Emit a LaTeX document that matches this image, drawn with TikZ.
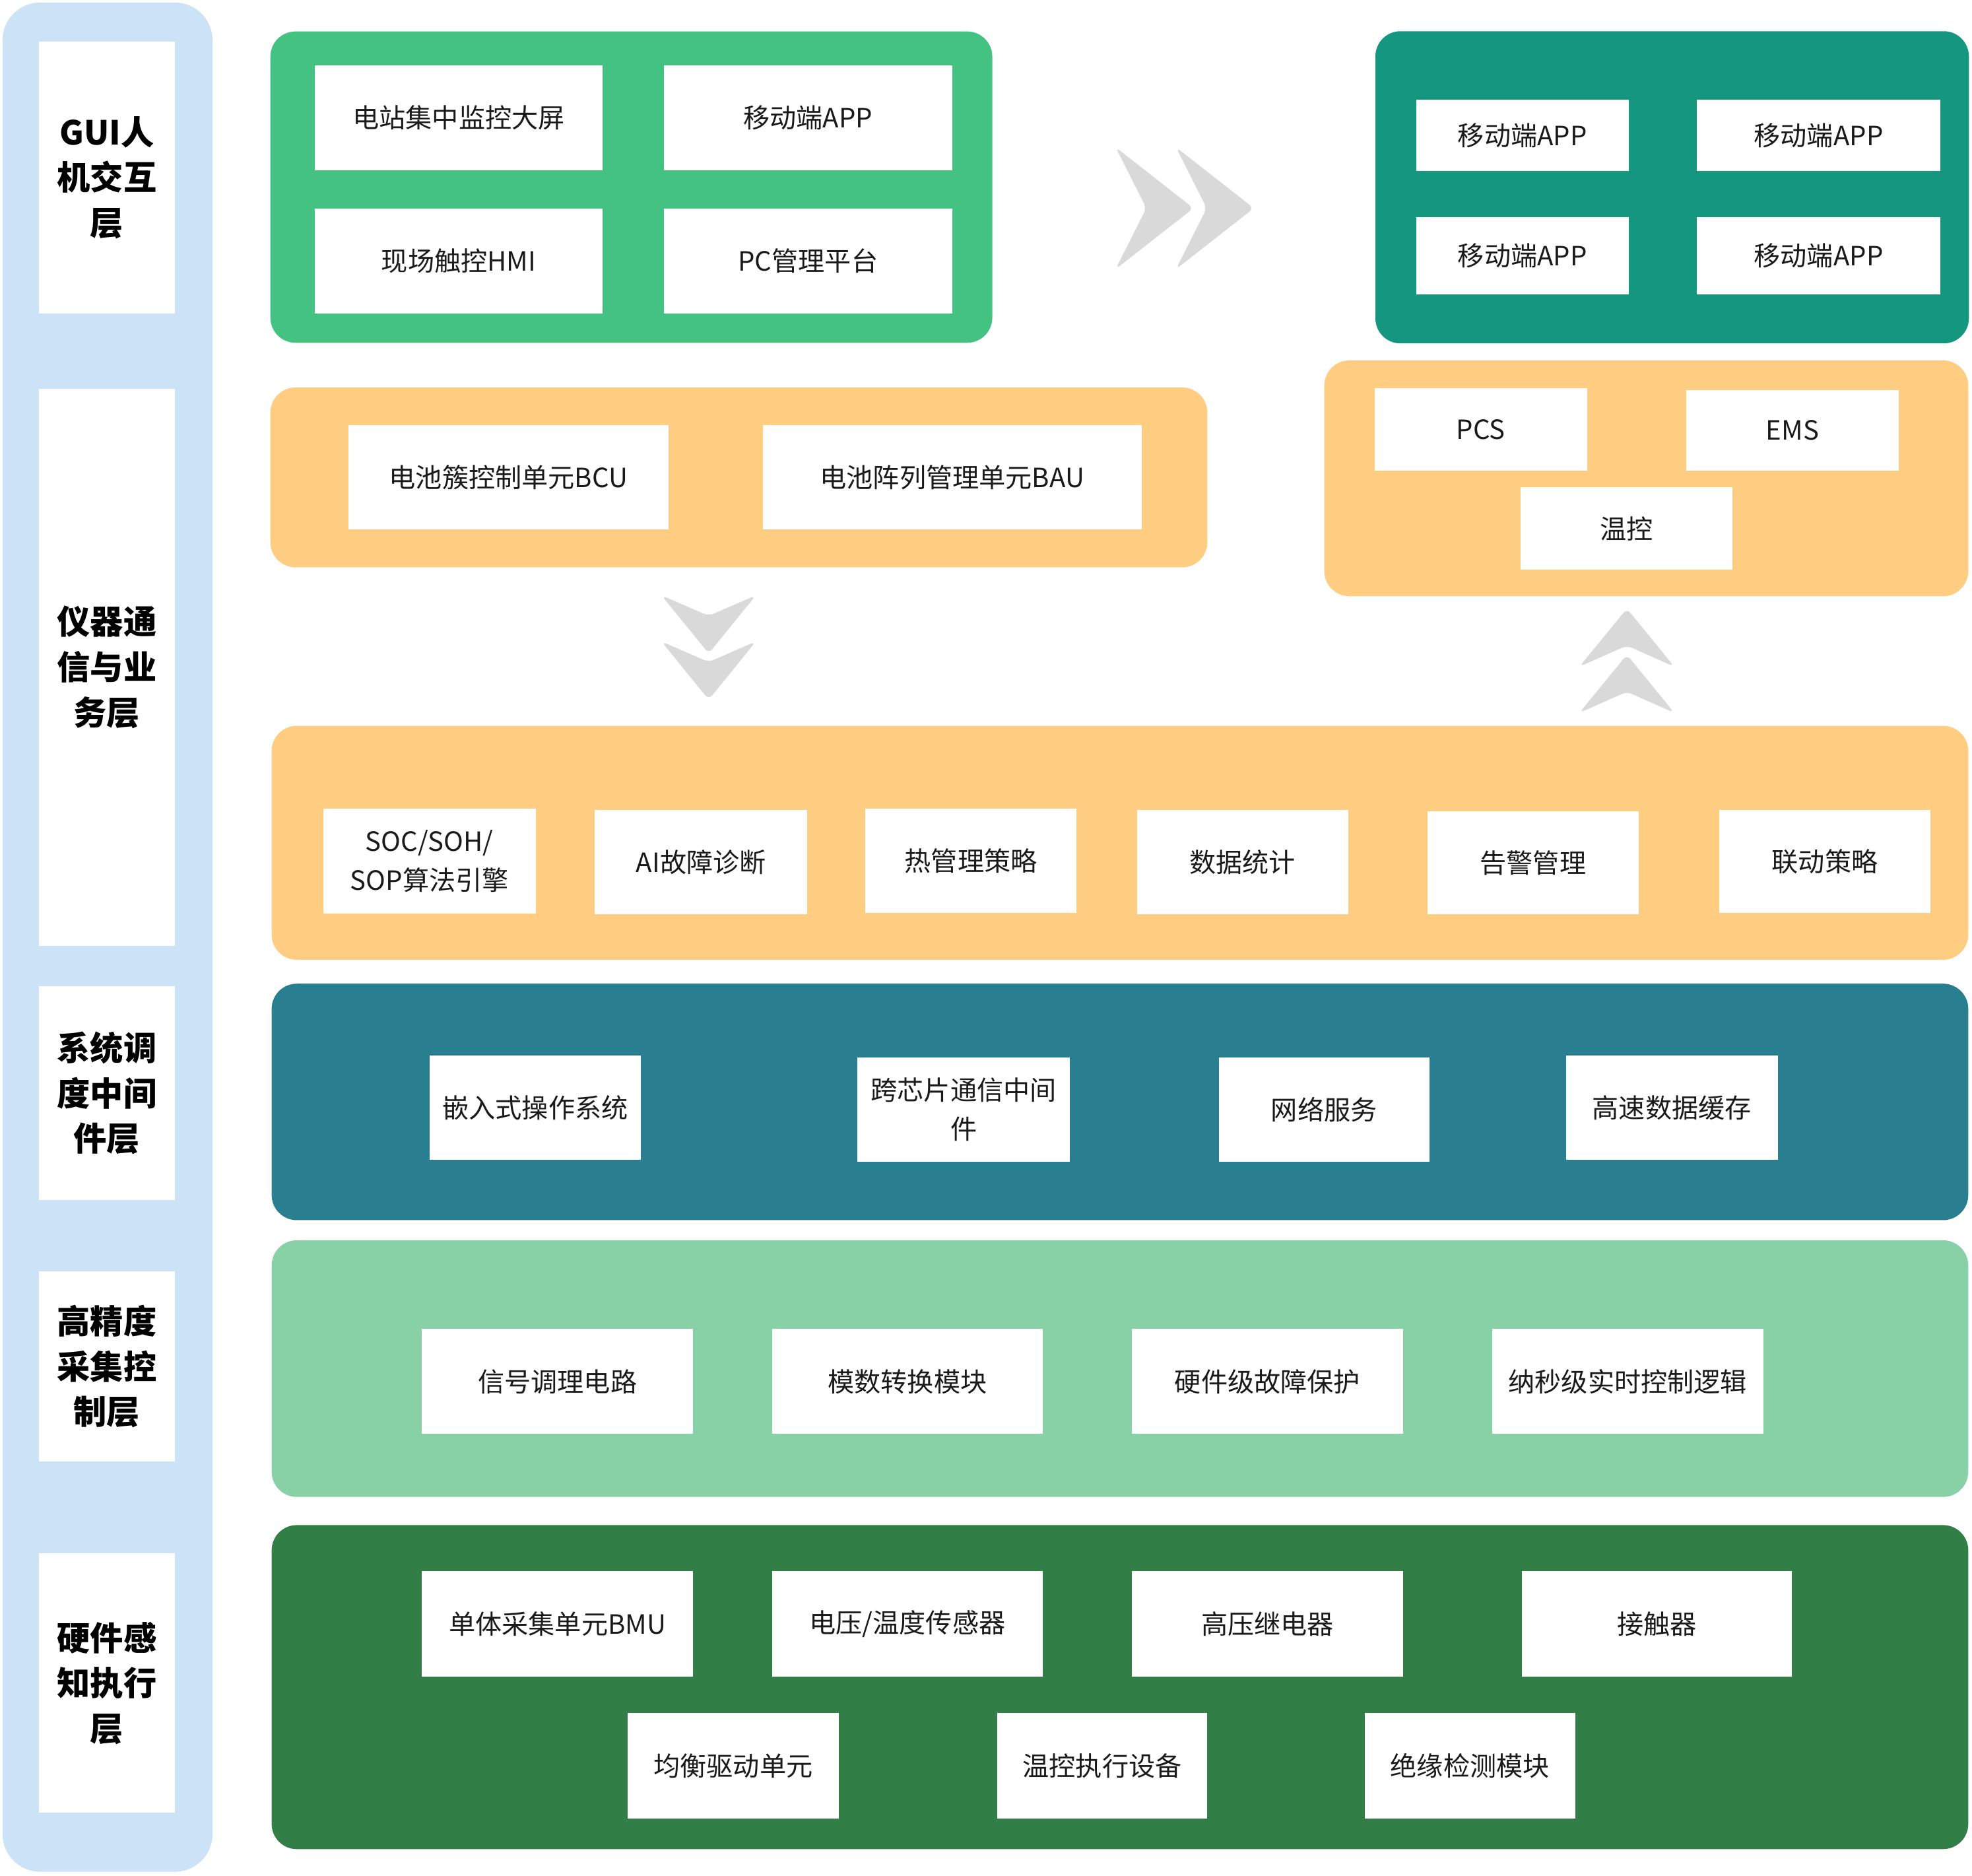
\documentclass[tikz,border=0pt]{standalone}
\usepackage{fontspec}
\setmainfont{Noto Sans CJK SC}
\definecolor{cBlue}{HTML}{CCE2F6}
\definecolor{cGreen}{HTML}{43C281}
\definecolor{cTeal}{HTML}{14967F}
\definecolor{cOrange}{HTML}{FFCD82}
\definecolor{cSys}{HTML}{297F8F}
\definecolor{cLGreen}{HTML}{88D0A5}
\definecolor{cDGreen}{HTML}{317F47}
\definecolor{cChev}{HTML}{D9D9D9}
\definecolor{cTxt}{HTML}{1A1A1A}
\newcommand\Bx[7][wbox]{\node[#1, minimum width={(#5-#3)*0.02cm}, minimum height={(#6-#4)*0.02cm}] (#2) at ({(#3+#5)/2},{(#4+#6)/2}) {#7};}
\newcommand\Pn[7]{\node[panel, fill=#6, rounded corners=#7, minimum width={(#4-#2)*0.02cm}, minimum height={(#5-#3)*0.02cm}] (#1) at ({(#2+#4)/2},{(#3+#5)/2}) {};}
\begin{document}
\begin{tikzpicture}[x=0.02cm,y=-0.02cm,
  panel/.style={draw=none, inner sep=0pt, outer sep=0pt},
  wbox/.style={fill=white, draw=none, inner sep=0pt, outer sep=0pt, align=center, text=cTxt, font=\fontsize{12}{17.5}\selectfont},
  lbox/.style={wbox, text=black, font=\fontsize{15}{20.5}\selectfont\bfseries},
  chev/.style={fill=cChev, rounded corners=2.5pt}]
\useasboundingbox (0,0) rectangle (1568,1491);

% left layer column
\Pn{leftcol}{2}{2}{169}{1488}{cBlue}{0.6cm}
\Bx[lbox]{lgui}{31}{33}{139}{249.5}{GUI人\\机交互\\层}
\Bx[lbox]{lbiz}{31}{309}{139}{752}{仪器通\\信与业\\务层}
\Bx[lbox]{lsys}{31}{784}{139}{954}{系统调\\度中间\\件层}
\Bx[lbox]{lacq}{31}{1010.5}{139}{1162}{高精度\\采集控\\制层}
\Bx[lbox]{lhw}{31}{1235}{139}{1441}{硬件感\\知执行\\层}

% GUI panel
\Pn{gui}{215}{25}{789}{272.5}{cGreen}{0.4cm}
\Bx{g1}{250.3}{51.8}{479.2}{135.6}{电站集中监控大屏}
\Bx{g2}{528}{51.8}{757}{135.6}{移动端APP}
\Bx{g3}{250.3}{165.7}{479.2}{249.4}{现场触控HMI}
\Bx{g4}{528}{165.7}{757}{249.4}{PC管理平台}

% app panel
\Pn{app}{1093.6}{24.8}{1565.5}{273}{cTeal}{0.4cm}
\Bx{a1}{1126}{79.4}{1295}{135.8}{移动端APP}
\Bx{a2}{1349}{79.4}{1543}{135.8}{移动端APP}
\Bx{a3}{1126}{172.7}{1295}{233.8}{移动端APP}
\Bx{a4}{1349}{172.7}{1543}{233.8}{移动端APP}

% right chevrons
\fill[chev] (887,117) -- (949,165.5) -- (887,214) -- (911.5,165.5) -- cycle;
\fill[chev] (935,117) -- (997,165.5) -- (935,214) -- (959.5,165.5) -- cycle;

% BMS panel
\Pn{bms}{215}{308}{960}{451}{cOrange}{0.4cm}
\Bx{b1}{277.3}{337.7}{531.4}{421}{电池簇控制单元BCU}
\Bx{b2}{606.6}{337.7}{907.6}{421}{电池阵列管理单元BAU}

% control panel
\Pn{ctl}{1053}{286.5}{1565}{474}{cOrange}{0.4cm}
\Bx{p1}{1093}{308.5}{1262}{374}{PCS}
\Bx{p2}{1341}{310}{1509.5}{374}{EMS}
\Bx{p3}{1209}{387.3}{1377.5}{453}{温控}

% down chevrons
\fill[chev] (526,473.3) -- (563.5,489.6) -- (601,473.3) -- (563.5,519.5) -- cycle;
\fill[chev] (526,510) -- (563.5,526.3) -- (601,510) -- (563.5,556.2) -- cycle;

% up chevrons
\fill[chev] (1293.6,483.8) -- (1331.3,530) -- (1293.6,513.2) -- (1255.8,530) -- cycle;
\fill[chev] (1293.6,520.5) -- (1331.3,566.7) -- (1293.6,549.9) -- (1255.8,566.7) -- cycle;

% service panel
\Pn{svc}{216}{577}{1565}{763}{cOrange}{0.4cm}
\Bx{s1}{257}{642.8}{426}{726.3}{SOC/SOH/\\SOP算法引擎}
\Bx{s2}{473}{644}{642}{727}{AI故障诊断}
\Bx{s3}{688}{643}{856}{726}{热管理策略}
\Bx{s4}{904}{644}{1072}{727}{数据统计}
\Bx{s5}{1135}{645}{1303}{727}{告警管理}
\Bx{s6}{1367}{644}{1535}{726}{联动策略}

% middleware panel
\Pn{sys}{216}{782}{1565}{970}{cSys}{0.4cm}
\Bx{m1}{341.6}{839}{509.5}{922}{嵌入式操作系统}
\Bx{m2}{681.7}{840.5}{850.7}{923.5}{跨芯片通信中间\\件}
\Bx{m3}{969}{840.5}{1136.7}{923.5}{网络服务}
\Bx{m4}{1245}{839}{1413.7}{922}{高速数据缓存}

% acquisition panel
\Pn{acq}{216}{986}{1565}{1190}{cLGreen}{0.4cm}
\Bx{c1}{335.5}{1056.5}{551}{1140}{信号调理电路}
\Bx{c2}{614}{1056.5}{829}{1140}{模数转换模块}
\Bx{c3}{900}{1056.5}{1115.6}{1140}{硬件级故障保护}
\Bx{c4}{1186.5}{1056.5}{1402}{1140}{纳秒级实时控制逻辑}

% hardware panel
\Pn{hw}{216}{1212.4}{1565}{1470}{cDGreen}{0.4cm}
\Bx{h1}{335.5}{1249}{551}{1333}{单体采集单元BMU}
\Bx{h2}{614}{1249}{829}{1333}{电压/温度传感器}
\Bx{h3}{900}{1249}{1115.6}{1333}{高压继电器}
\Bx{h4}{1210}{1249}{1424.7}{1333}{接触器}
\Bx{h5}{499}{1362}{667}{1445.7}{均衡驱动单元}
\Bx{h6}{792.7}{1362}{960}{1445.7}{温控执行设备}
\Bx{h7}{1085}{1362}{1252.6}{1445.7}{绝缘检测模块}
\end{tikzpicture}
\end{document}
